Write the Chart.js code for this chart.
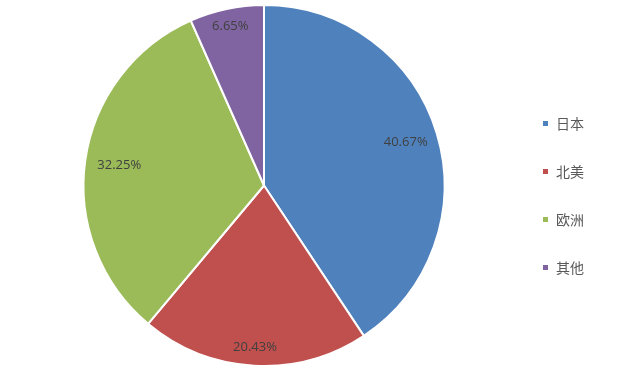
<!DOCTYPE html>
<html>
<head>
<meta charset="utf-8">
<script src="https://cdn.jsdelivr.net/npm/chart.js@4/dist/chart.umd.min.js"></script>
<style>
  html, body { margin: 0; padding: 0; background: #fff; }
  #wrap { width: 622px; height: 371px; }
</style>
</head>
<body>
<div id="wrap"><canvas id="graficoPie"></canvas></div>
<script>
const regioes = ['日本', '北美', '欧洲', '其他'];
const percentuais = [40.67, 20.43, 32.25, 6.65];
const cores = ['#4F81BD', '#C0504D', '#9BBB59', '#8064A2'];

// onde cada rotulo fica, como fracao do raio
const posRotulo = [0.82, 0.9, 0.81, 0.9];

const rotulosPlugin = {
    id: 'rotulos',
    afterLayout(chart) {
        // desce um pouco a legenda
        chart.legend.top += 10;
        chart.legend.bottom += 10;
    },
    afterDatasetsDraw(chart) {
        const ctx = chart.ctx;
        const meta = chart.getDatasetMeta(0);
        ctx.save();
        ctx.font = '13px "Open Sans", "Noto Sans", sans-serif';
        ctx.fillStyle = '#404040';
        ctx.textAlign = 'center';
        ctx.textBaseline = 'middle';
        meta.data.forEach((arc, i) => {
            const meio = (arc.startAngle + arc.endAngle) / 2;
            const r = arc.outerRadius * posRotulo[i];
            const x = arc.x + Math.cos(meio) * r;
            const y = arc.y + Math.sin(meio) * r;
            ctx.fillText(percentuais[i].toFixed(2) + '%', x, y);
        });
        ctx.restore();
    }
};

const graficoPie = document.getElementById('graficoPie');

new Chart(graficoPie, {
    type: 'pie',
    data: {
        labels: regioes,
        datasets: [{
            data: percentuais,
            backgroundColor: cores,
            borderColor: '#ffffff',
            borderWidth: 2
        }]
    },
    options: {
        responsive: true,
        maintainAspectRatio: false,
        animation: false,
        layout: { padding: { left: 20, top: 4, bottom: 4, right: 28 } },
        plugins: {
            tooltip: { enabled: false },
            legend: {
                position: 'right',
                labels: {
                    boxWidth: 7,
                    boxHeight: 7,
                    padding: 34,
                    color: '#595959',
                    font: { size: 14, family: '"Noto Sans CJK SC", sans-serif' }
                }
            }
        }
    },
    plugins: [rotulosPlugin]
});
</script>
</body>
</html>
